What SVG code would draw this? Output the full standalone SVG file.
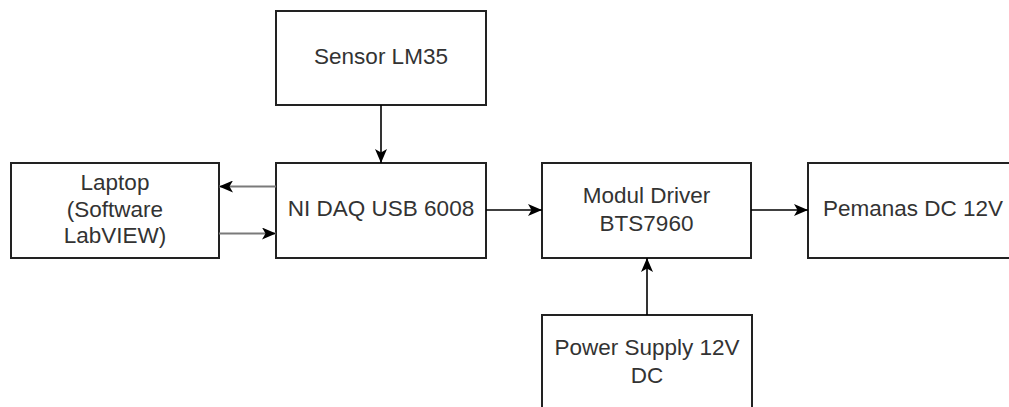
<svg xmlns="http://www.w3.org/2000/svg" width="1009" height="407" viewBox="0 0 1009 407">
  <style>
    .box { fill: #ffffff; stroke: #222222; stroke-width: 2; }
    .lbl { font-family: "Liberation Sans", Arial, sans-serif; font-size: 22.5px; fill: #333333; text-anchor: middle; }
    .con { fill: none; stroke: #000000; stroke-width: 1.6; }
    .con-gray { fill: none; stroke: #7a7a7a; stroke-width: 2.2; }
  </style>
  <defs>
    <marker id="arrow" markerUnits="userSpaceOnUse" viewBox="0 0 14 12" refX="14" refY="6" markerWidth="14" markerHeight="12" orient="auto">
      <path d="M14,6 L0,0 L3.5,6 L0,12 Z" fill="#000000"/>
    </marker>
  </defs>
  <rect width="1009" height="407" fill="#ffffff"/>

  <g id="sensor">
    <rect class="box" x="276" y="11" width="210" height="94"/>
    <text class="lbl" x="381" y="64">Sensor LM35</text>
  </g>
  <g id="laptop">
    <rect class="box" x="11" y="163" width="208" height="95"/>
    <text class="lbl" x="115" y="190">Laptop</text>
    <text class="lbl" x="115" y="216.5">(Software</text>
    <text class="lbl" x="115" y="243">LabVIEW)</text>
  </g>
  <g id="nidaq">
    <rect class="box" x="276" y="163" width="210" height="95"/>
    <text class="lbl" x="381" y="216">NI DAQ USB 6008</text>
  </g>
  <g id="driver">
    <rect class="box" x="542" y="163" width="209" height="95"/>
    <text class="lbl" x="646.5" y="203">Modul Driver</text>
    <text class="lbl" x="646.5" y="231">BTS7960</text>
  </g>
  <g id="pemanas">
    <rect class="box" x="808" y="163" width="210" height="95"/>
    <text class="lbl" x="913" y="216">Pemanas DC 12V</text>
  </g>
  <g id="power">
    <rect class="box" x="542" y="315" width="210" height="95"/>
    <text class="lbl" x="647" y="355">Power Supply 12V</text>
    <text class="lbl" x="647" y="383">DC</text>
  </g>

  <g id="connectors">
    <line class="con" x1="381" y1="105" x2="381" y2="163" marker-end="url(#arrow)"/>
    <line class="con-gray" x1="276" y1="186.5" x2="219" y2="186.5" marker-end="url(#arrow)"/>
    <line class="con-gray" x1="219" y1="233.5" x2="276" y2="233.5" marker-end="url(#arrow)"/>
    <line class="con" x1="486" y1="210" x2="542" y2="210" marker-end="url(#arrow)"/>
    <line class="con" x1="751" y1="210" x2="808" y2="210" marker-end="url(#arrow)"/>
    <line class="con" x1="647" y1="315" x2="647" y2="258" marker-end="url(#arrow)"/>
  </g>
</svg>
